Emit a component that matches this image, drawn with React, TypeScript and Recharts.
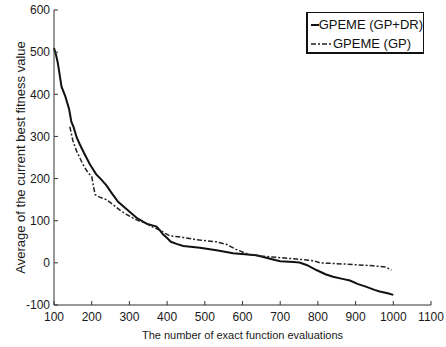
import { Line, LineChart, XAxis, YAxis } from 'recharts';

// GPEME (GP+DR) curve, solid
const evalsDR = [100, 105, 110, 120, 130, 140, 146, 152, 160, 168, 180, 195, 212, 225, 239, 255, 270, 292, 319, 345, 372, 380, 389, 400, 410, 425, 443, 487, 531, 575, 637, 681, 700, 735, 751, 770, 796, 820, 840, 865, 885, 905, 929, 950, 964, 985, 1000];
const fitnessDR = [510, 495, 475, 418, 395, 365, 335, 322, 298, 282, 260, 234, 210, 198, 184, 163, 145, 128, 107, 93, 86, 78, 68, 59, 50, 45, 40, 36, 30, 23, 18, 8, 4, 2, 1, -5, -17, -27, -33, -38, -42, -50, -57, -64, -68, -72, -76];

// GPEME (GP) curve, dash-dot
const evalsGP = [142, 150, 160, 168, 180, 192, 200, 205, 209, 221, 239, 257, 275, 292, 310, 327, 345, 354, 380, 395, 407, 430, 451, 486, 530, 557, 583, 619, 650, 690, 730, 769, 790, 805, 876, 946, 980, 995];
const fitnessGP = [323, 290, 265, 250, 228, 212, 205, 180, 162, 156, 150, 138, 125, 115, 106, 99, 94, 88, 78, 70, 64, 62, 59, 54, 50, 44, 32, 19, 16, 13, 10, 7, 5, 0, -3, -7, -10, -17];

const xTicks = [100, 200, 300, 400, 500, 600, 700, 800, 900, 1000, 1100];
const yTicks = [-100, 0, 100, 200, 300, 400, 500, 600];

const seriesNames = ['GPEME (GP+DR)', 'GPEME (GP)'];

const dataDR = evalsDR.map((x, i) => ({ x, y: fitnessDR[i] }));
const dataGP = evalsGP.map((x, i) => ({ x, y: fitnessGP[i] }));

const font = "'Liberation Sans', Arial, sans-serif";
const narrow = "'Liberation Sans Narrow', 'Liberation Sans', Arial, sans-serif";
const tickStyle = { fill: '#1a1a1a', fontSize: 12, fontFamily: font };

function LegendBox() {
  return (
    <div
      style={{
        position: 'absolute',
        left: 306,
        top: 12,
        width: 118,
        height: 42,
        border: '1px solid #111',
        borderBottomWidth: 2,
        borderLeftWidth: 2,
        background: '#fff',
        fontFamily: narrow,
        fontSize: 13,
        color: '#111',
        lineHeight: '19px',
        padding: '2px 0 0 3px',
        whiteSpace: 'nowrap',
        boxSizing: 'border-box',
      }}
    >
      <div style={{ display: 'flex', alignItems: 'center' }}>
        <svg width={22} height={8}>
          <line x1={0} y1={4} x2={22} y2={4} stroke="#111" strokeWidth={2} />
        </svg>
        <span>{seriesNames[0]}</span>
      </div>
      <div style={{ display: 'flex', alignItems: 'center' }}>
        <svg width={22} height={8}>
          <line x1={0} y1={4} x2={22} y2={4} stroke="#222" strokeWidth={1.5} strokeDasharray="5 2 2 2" />
        </svg>
        <span>{seriesNames[1]}</span>
      </div>
    </div>
  );
}

export default function App() {
  return (
    <div style={{ position: 'absolute', left: 0, top: 0, width: 446, height: 347, background: '#fff' }}>
      <LineChart width={446} height={347} margin={{ top: 10, right: 15, left: 0, bottom: 0 }}>
        <XAxis
          xAxisId="main"
          dataKey="x"
          type="number"
          domain={[100, 1100]}
          ticks={xTicks}
          allowDuplicatedCategory={false}
          height={42}
          tick={tickStyle}
          tickSize={-4}
          tickMargin={11}
          axisLine={{ stroke: '#333' }}
          tickLine={{ stroke: '#333' }}
          label={{
            value: 'The number of exact function evaluations',
            position: 'insideBottom',
            offset: 8,
            style: { fill: '#1a1a1a', fontSize: 11, fontFamily: font },
          }}
        />
        <XAxis
          xAxisId="top"
          orientation="top"
          dataKey="x"
          type="number"
          domain={[100, 1100]}
          ticks={xTicks}
          height={0}
          tickSize={-3}
          tickFormatter={() => ''}
          axisLine={{ stroke: '#555', strokeDasharray: '1 1' }}
          tickLine={{ stroke: '#555' }}
        />
        <YAxis
          yAxisId="main"
          type="number"
          domain={[-100, 600]}
          ticks={yTicks}
          width={54}
          tick={tickStyle}
          tickSize={-4}
          tickMargin={8}
          axisLine={{ stroke: '#333' }}
          tickLine={{ stroke: '#333' }}
          label={{
            value: 'Average of the current best fitness value',
            angle: -90,
            position: 'center',
            dx: -7,
            style: { fill: '#1a1a1a', fontSize: 13, fontFamily: font, textAnchor: 'middle' },
          }}
        />
        <YAxis
          yAxisId="right"
          orientation="right"
          type="number"
          domain={[-100, 600]}
          ticks={yTicks}
          width={0}
          tickSize={-3}
          tickFormatter={() => ''}
          axisLine={{ stroke: '#111', strokeWidth: 1.5 }}
          tickLine={{ stroke: '#333' }}
        />
        <Line
          xAxisId="main"
          yAxisId="main"
          data={dataDR}
          dataKey="y"
          name={seriesNames[0]}
          type="linear"
          stroke="#111"
          strokeWidth={2}
          dot={false}
          isAnimationActive={false}
        />
        <Line
          xAxisId="main"
          yAxisId="main"
          data={dataGP}
          dataKey="y"
          name={seriesNames[1]}
          type="linear"
          stroke="#222"
          strokeWidth={1.5}
          strokeDasharray="5 2 2 2"
          dot={false}
          isAnimationActive={false}
        />
      </LineChart>
      <LegendBox />
    </div>
  );
}
